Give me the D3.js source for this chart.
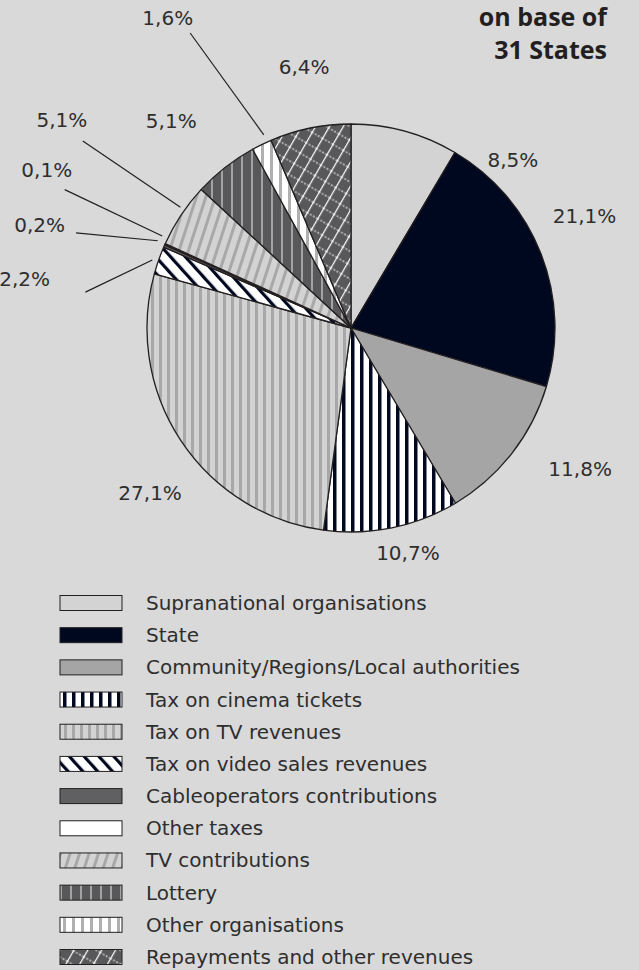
<!DOCTYPE html>
<html>
<head>
<meta charset="utf-8">
<script src="https://cdn.jsdelivr.net/npm/d3@7"></script>
<style>
  body { margin: 0; background: #d9d9d9; }
  svg { display: block; font-family: "DejaVu Sans", "Open Sans", sans-serif; }
</style>
</head>
<body>
<svg width="639" height="970"></svg>
<script>
const categories = [
  "Supranational organisations", "State", "Community/Regions/Local authorities",
  "Tax on cinema tickets", "Tax on TV revenues", "Tax on video sales revenues",
  "Cableoperators contributions", "Other taxes", "TV contributions",
  "Lottery", "Other organisations", "Repayments and other revenues"
]
const shares = [8.5, 21.1, 11.8, 10.7, 27.1, 2.2, 0.2, 0.1, 5.1, 5.1, 1.6, 6.4]
const fills = ["supra", "state", "community", "cinema", "tvrev", "video",
  "cable", "othertax", "tvcontrib", "lottery", "otherorg", "repay"]
const titleLines = ["on base of", "31 States"]

// where each percentage label sits: [angle in degrees clockwise from top, distance from centre]
const labelPolar = [[44, 233], [64.4, 259], [121.6, 269], [165.8, 232], [230.6, 260],
  [278.5, 330], [288.3, 328], [297.5, 343], [305.7, 356], [319, 274], [329.4, 360], [349.8, 265]]
// leader lines for the small slices: [startAngle, startR, endAngle, endR]
const leaders = { 5: [277.7, 268, 288.9, 210], 6: [289.1, 291, 294.3, 212],
  7: [295.8, 318, 296, 210], 8: [304.9, 327, 305.3, 209], 10: [331.4, 336, 335.7, 212] }

const svg = d3.select("svg")
const cx = 351, cy = 328, radius = 204
const ink = "#231f20"

const defs = svg.append("defs")
function stripes(id, w, bg, fg, sw, rot) {
  const p = defs.append("pattern").attr("id", id)
    .attr("patternUnits", "userSpaceOnUse").attr("width", w).attr("height", w)
  if (rot) p.attr("patternTransform", `rotate(${rot})`)
  p.append("rect").attr("width", w).attr("height", w).attr("fill", bg)
  p.append("rect").attr("width", sw).attr("height", w).attr("fill", fg)
  return p
}
stripes("cinema", 9, "#ffffff", "#000820", 3.5, 0)
stripes("tvrev", 8, "#d3d3d3", "#a8a8a8", 3, 0)
stripes("video", 11, "#ffffff", "#000820", 3.2, -42)
stripes("tvcontrib", 9, "#d3d3d3", "#a8a8a8", 3, 18)
stripes("lottery", 10, "#58585a", "#a3a3a3", 2, 0)
stripes("otherorg", 9, "#ffffff", "#b0b0b0", 3, 0)
const rep = defs.append("pattern").attr("id", "repay")
  .attr("patternUnits", "userSpaceOnUse").attr("width", 12).attr("height", 12)
  .attr("patternTransform", "rotate(30)")
rep.append("rect").attr("width", 12).attr("height", 12).attr("fill", "#58585a")
rep.append("line").attr("x1", 0.6).attr("x2", 0.6).attr("y1", 0).attr("y2", 12)
  .attr("stroke", "#ffffff").attr("stroke-width", 1.2)
rep.append("line").attr("x1", 0).attr("x2", 12).attr("y1", 6).attr("y2", 6)
  .attr("stroke", "#ffffff").attr("stroke-width", 1).attr("stroke-dasharray", "2,1.5")

const solid = { supra: "#d3d3d4", state: "#000820", community: "#a5a5a5", cable: "#606062", othertax: "#ffffff" }
const fillOf = i => solid[fills[i]] || `url(#${fills[i]})`

const pie = d3.pie().sort(null).value(d => d)
const arcs = pie(shares)
const arc = d3.arc().innerRadius(0).outerRadius(radius)

const g = svg.append("g").attr("transform", `translate(${cx},${cy})`)
g.selectAll("path.slice")
  .data(arcs).enter()
  .append("path")
  .attr("class", "slice")
  .attr("d", arc)
  .attr("fill", (d, i) => fillOf(i))
  .attr("stroke", ink)
  .attr("stroke-width", 1.3)
  .attr("stroke-linejoin", "round")

const polar = (deg, r) => {
  const a = deg * Math.PI / 180
  return [Math.sin(a) * r, -Math.cos(a) * r]
}

Object.entries(leaders).forEach(([i, l]) => {
  const s = polar(l[0], l[1]), e = polar(l[2], l[3])
  g.append("line")
    .attr("x1", s[0]).attr("y1", s[1]).attr("x2", e[0]).attr("y2", e[1])
    .attr("stroke", ink).attr("stroke-width", 1.2)
})

const pct = d3.formatLocale({ decimal: ",", thousands: ".", grouping: [3], currency: ["", ""] })
  .format(".1f")

g.selectAll("text.pct")
  .data(arcs).enter()
  .append("text")
  .attr("class", "pct")
  .attr("transform", (d, i) => `translate(${polar(labelPolar[i][0], labelPolar[i][1])})`)
  .attr("text-anchor", "middle")
  .attr("dy", "0.35em")
  .attr("font-size", 20)
  .attr("fill", "#2e2e2e")
  .text(d => pct(d.data) + "%")

svg.append("g").selectAll("text")
  .data(titleLines).enter()
  .append("text")
  .attr("x", 607)
  .attr("y", (d, i) => 26 + i * 33)
  .attr("text-anchor", "end")
  .attr("font-family", "'Open Sans', sans-serif")
  .attr("font-size", 25)
  .attr("font-weight", "bold")
  .attr("fill", "#231f20")
  .text(d => d)

// legend
const rowY = d3.scalePoint().domain(categories).range([603, 957])
const legend = svg.append("g").selectAll("g")
  .data(categories).enter()
  .append("g")
  .attr("transform", d => `translate(0,${rowY(d)})`)
legend.append("rect")
  .attr("x", 60).attr("y", -7.5)
  .attr("width", 62).attr("height", 15)
  .attr("fill", (d, i) => fillOf(i))
  .attr("stroke", ink).attr("stroke-width", 1)
legend.append("text")
  .attr("x", 146)
  .attr("dy", "0.35em")
  .attr("font-size", 20)
  .attr("fill", "#2e2e2e")
  .text(d => d)
</script>
</body>
</html>
